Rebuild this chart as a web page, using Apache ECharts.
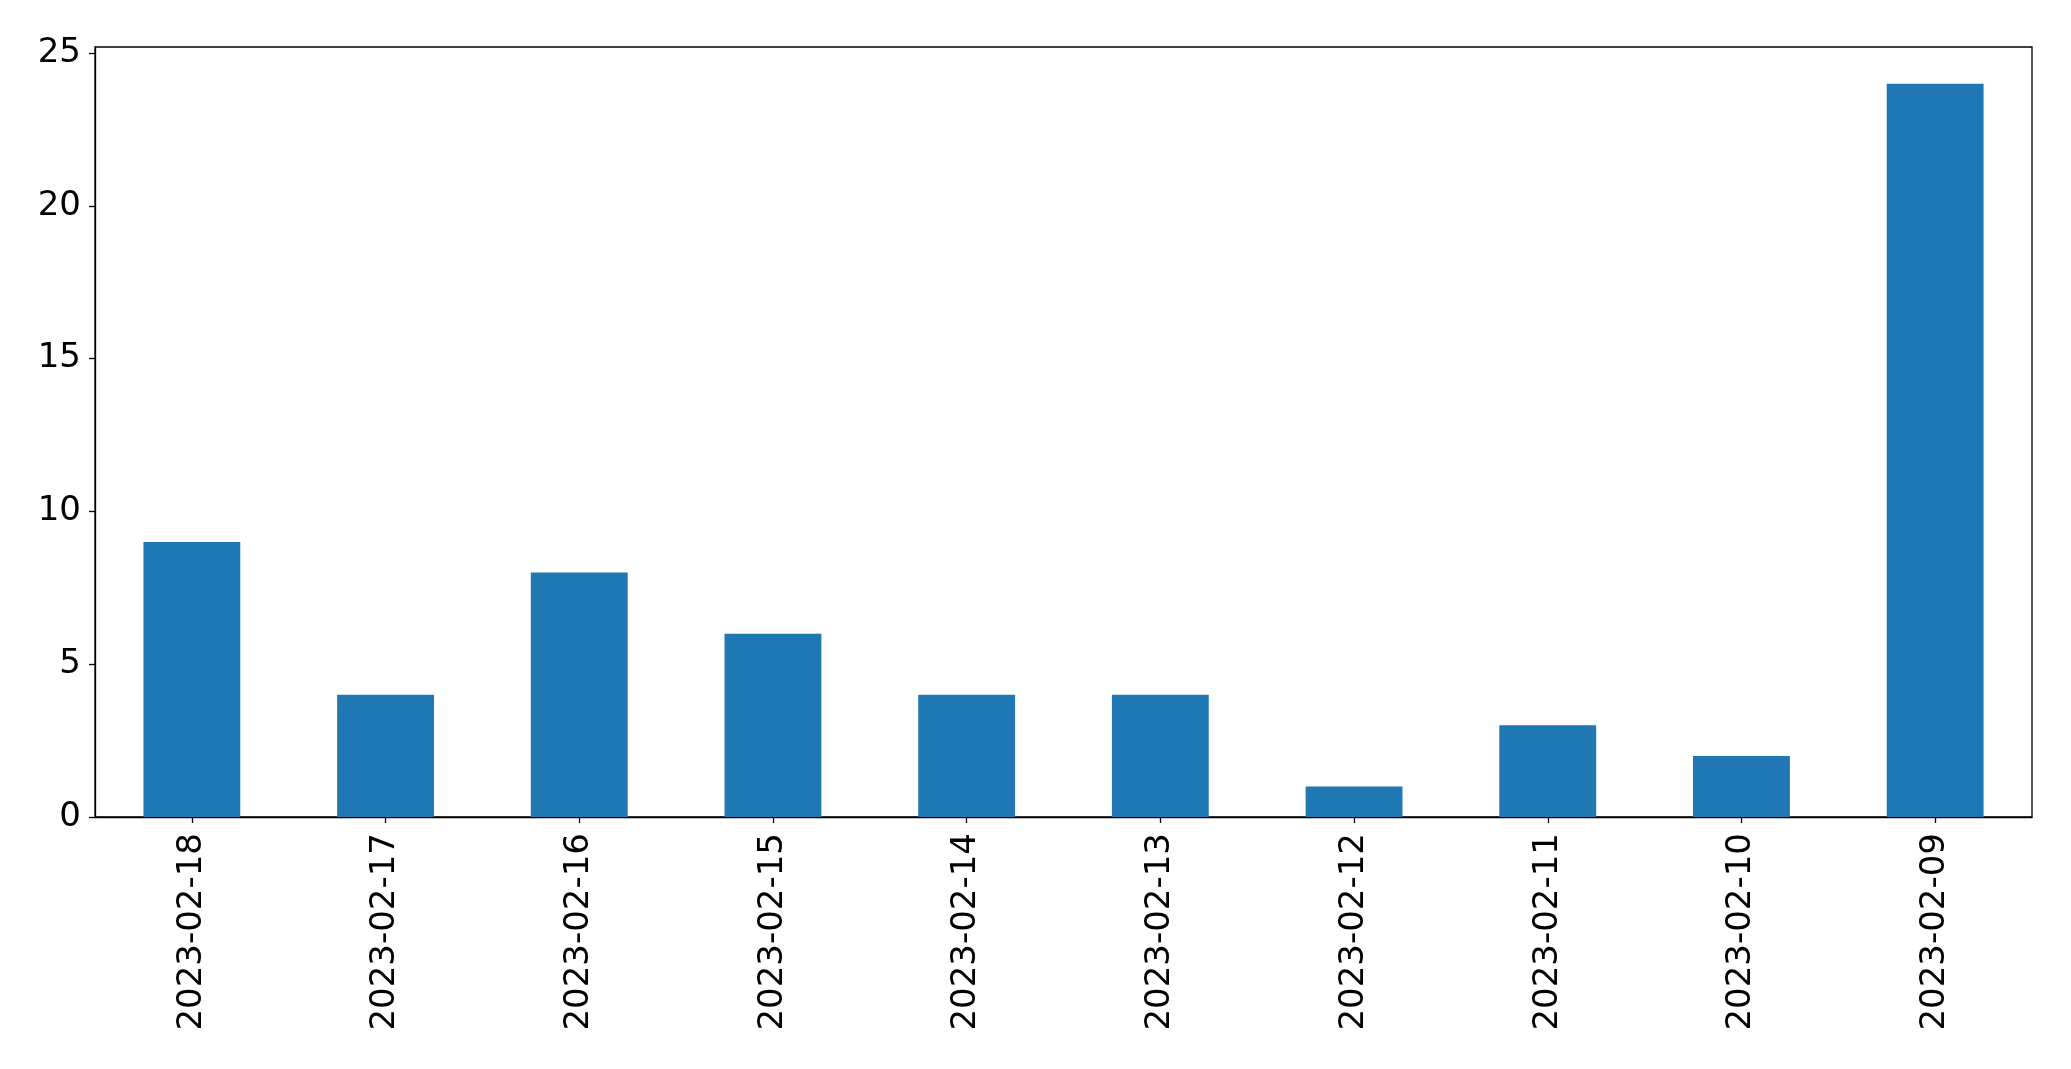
<!DOCTYPE html>
<html>
<head>
<meta charset="utf-8">
<script src="https://cdn.jsdelivr.net/npm/echarts@6/dist/echarts.min.js"></script>
<style>html,body{margin:0;padding:0;background:#fff;}#c{width:2071px;height:1069px;}</style>
</head>
<body>
<div id="c"></div>
<script>
const categories = ['2023-02-18','2023-02-17','2023-02-16','2023-02-15','2023-02-14','2023-02-13','2023-02-12','2023-02-11','2023-02-10','2023-02-09'];
const values = [9, 4, 8, 6, 4, 4, 1, 3, 2, 24];
const yTicks = [0, 5, 10, 15, 20, 25];

const chart = echarts.init(document.getElementById('c'), null, {renderer: 'canvas'});
const font = 'DejaVu Sans';
chart.setOption({
  animation: false,
  backgroundColor: '#fff',
  grid: {left: 95, right: 39, top: 47, bottom: 252, show: true, borderColor: '#000', borderWidth: 1.3, backgroundColor: 'transparent'},
  xAxis: {
    type: 'category',
    data: categories,
    axisLine: {show: true, lineStyle: {color: '#000', width: 1.3}},
    axisTick: {show: true, alignWithLabel: true, length: 6, lineStyle: {color: '#000', width: 1.3}},
    axisLabel: {rotate: 90, margin: 16, fontFamily: font, fontSize: 34, color: '#000'},
    splitLine: {show: false}
  },
  yAxis: {
    type: 'value',
    min: 0, max: 25.2, interval: 5,
    axisLine: {show: true, lineStyle: {color: '#000', width: 1.3}},
    axisTick: {show: true, length: 6, customValues: yTicks, lineStyle: {color: '#000', width: 1.3}},
    axisLabel: {margin: 14, fontFamily: font, fontSize: 34, color: '#000', customValues: yTicks},
    splitLine: {show: false}
  },
  series: [{
    type: 'bar',
    data: values,
    barWidth: '50%',
    itemStyle: {color: '#1f77b4'}
  }]
});
</script>
</body>
</html>
